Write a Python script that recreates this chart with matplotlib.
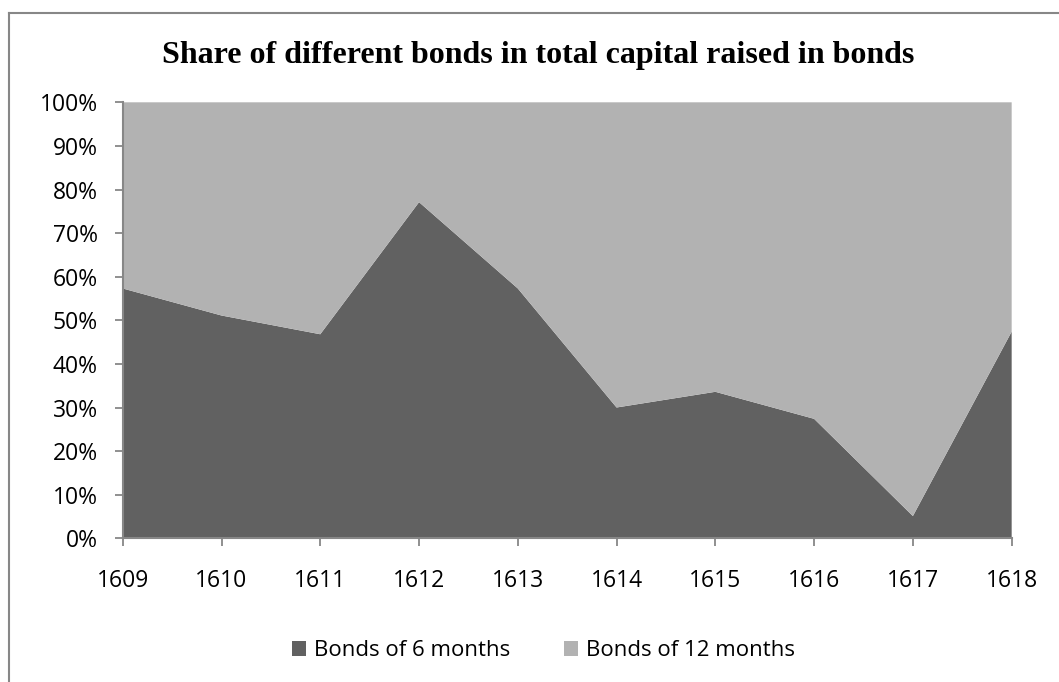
import matplotlib.pyplot as plt
from matplotlib.lines import Line2D
from matplotlib.ticker import FuncFormatter

years = [1609, 1610, 1611, 1612, 1613, 1614, 1615, 1616, 1617, 1618]
bonds_6m = [57.3, 51.1, 46.8, 77.1, 57.3, 30.0, 33.6, 27.4, 5.1, 47.4]
bonds_12m = [42.7, 48.9, 53.2, 22.9, 42.7, 70.0, 66.4, 72.6, 94.9, 52.6]
series_names = ['Bonds of 6 months', 'Bonds of 12 months']
title = 'Share of different bonds in total capital raised in bonds'

dark = '#616161'
light = '#b2b2b2'
axis_grey = '#878787'

fig = plt.figure(figsize=(10.59, 6.82), dpi=100)
ax = fig.add_axes([0.1159, 0.2107, 0.8394, 0.6393])

ax.stackplot(years, bonds_6m, bonds_12m, colors=[dark, light],
             labels=series_names, linewidth=0)

ax.set_xlim(years[0], years[-1])
ax.set_ylim(0, 100)
ax.set_xticks(years)
ax.set_yticks(range(0, 101, 10))
ax.yaxis.set_major_formatter(FuncFormatter(lambda v, _: f'{v:.0f}%'))

for side in ['top', 'right']:
    ax.spines[side].set_visible(False)
for side in ['left', 'bottom']:
    ax.spines[side].set_color(axis_grey)
    ax.spines[side].set_linewidth(1.5)

tick_font = 'Open Sans'
ax.tick_params(axis='both', direction='out', length=6, width=1.3,
               color=axis_grey, labelsize=16.5)
ax.tick_params(axis='y', pad=12)
ax.tick_params(axis='x', pad=16)
for lab in ax.get_xticklabels() + ax.get_yticklabels():
    lab.set_fontfamily(tick_font)

fig.text(0.508, 0.919, title, ha='center', va='center',
         fontsize=23, fontweight='bold', family='Liberation Serif')

leg = fig.legend(loc='center', bbox_to_anchor=(0.513, 0.046), ncol=2,
                 frameon=False, handlelength=0.65, handleheight=0.65,
                 handletextpad=0.35, columnspacing=2.4,
                 prop={'family': tick_font, 'size': 16})

# outer chart border: left and top edges only
fig.add_artist(Line2D([9 / 1059, 9 / 1059], [0, 1 - 13 / 682],
                      transform=fig.transFigure, color=axis_grey, lw=1.5))
fig.add_artist(Line2D([9 / 1059, 1], [1 - 13 / 682, 1 - 13 / 682],
                      transform=fig.transFigure, color=axis_grey, lw=1.5))

fig.savefig('out.png', dpi=100)
